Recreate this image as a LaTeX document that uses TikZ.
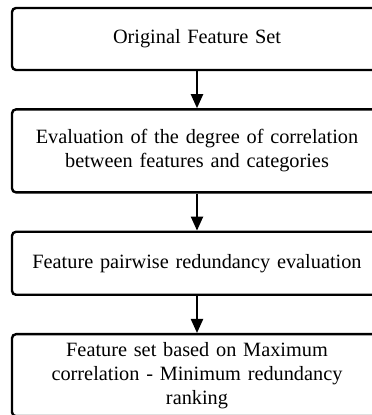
\documentclass[tikz,border=0pt]{standalone}
\usepackage{fontspec}
\setmainfont{Liberation Serif}
\usetikzlibrary{positioning,arrows.meta}

\begin{document}
\begin{tikzpicture}[x=1pt, y=1pt,
    stage/.style={draw, line width=2.4pt, rounded corners=4pt,
      minimum width=370pt, text width=355pt, align=center,
      font=\fontsize{20.3}{24}\selectfont, inner sep=0pt},
    flow/.style={line width=2.2pt, -{Triangle[width=12pt,length=14pt]}}]
  \useasboundingbox (0,0) rectangle (372,415);

  \node[stage, minimum height=62pt] (orig) at (197,376) {Original Feature Set};
  \node[stage, minimum height=83pt, below=37pt of orig] (corr)
    {Evaluation of the degree of correlation\\ between features and categories};
  \node[stage, minimum height=63pt, below=37pt of corr] (pair)
    {Feature pairwise redundancy evaluation};
  \node[stage, minimum height=82pt, below=37pt of pair] (rank)
    {Feature set based on Maximum\\ correlation - Minimum redundancy\\ ranking};

  \draw[flow] (orig) -- (corr);
  \draw[flow] (corr) -- (pair);
  \draw[flow] (pair) -- (rank);

\end{tikzpicture}
\end{document}
